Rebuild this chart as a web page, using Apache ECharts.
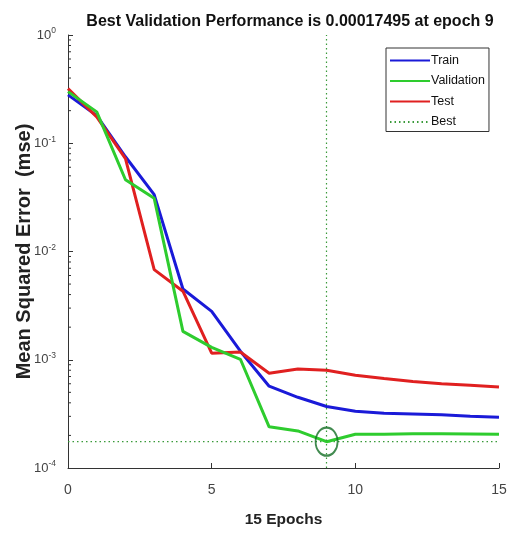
<!DOCTYPE html>
<html>
<head>
<meta charset="utf-8">
<script src="https://cdn.jsdelivr.net/npm/echarts@6/dist/echarts.min.js"></script>
<style>
html,body{margin:0;padding:0;background:#fff;}
#chart{width:519px;height:533px;}
</style>
</head>
<body>
<div id="chart"></div>
<script>
const epochs = [0,1,2,3,4,5,6,7,8,9,10,11,12,13,14,15];
const trainMSE = [0.28,0.18,0.075,0.0335,0.0045,0.0028,0.0012,0.00057,0.00045,0.00037,0.000335,0.00032,0.000315,0.00031,0.0003,0.000295];
const validationMSE = [0.30,0.195,0.046,0.031,0.00183,0.0013,0.00101,0.00024,0.00022,0.00017495,0.000205,0.000205,0.000207,0.000207,0.000206,0.000205];
const testMSE = [0.32,0.175,0.072,0.0068,0.0043,0.00115,0.00118,0.00075,0.00082,0.0008,0.00072,0.00067,0.00063,0.0006,0.00058,0.00056];
const bestEpoch = 9;
const bestValue = 0.00017495;
const xTicks = [0,5,10,15];
const yTicks = [1e-4,1e-3,1e-2,1e-1,1];

const FONT = "'Liberation Sans',Arial,sans-serif";

const minorTickVals = [];
for (let d = -4; d < 0; d++) {
  for (let k = 2; k <= 9; k++) minorTickVals.push([0, k * Math.pow(10, d)]);
}

const pair = arr => epochs.map((e, i) => [e, arr[i]]);

const chart = echarts.init(document.getElementById('chart'));
chart.setOption({
  animation: false,
  backgroundColor: '#fff',
  title: {
    text: 'Best Validation Performance is ' + bestValue + ' at epoch ' + bestEpoch,
    left: 285, top: 9, textAlign: 'center',
    textStyle: {fontFamily: FONT, fontWeight: 'bold', fontSize: 16, color: '#111'}
  },
  grid: {left: 68, right: 20, top: 35, bottom: 64, containLabel: false},
  legend: {
    orient: 'vertical', left: 386, top: 48,
    backgroundColor: '#fff', borderColor: '#333', borderWidth: 1,
    padding: [6, 4, 3, 3], itemGap: 7.5, itemWidth: 40, itemHeight: 14,
    itemStyle: {opacity: 0},
    textStyle: {fontFamily: FONT, fontSize: 12.5, color: '#111', padding: [0, 0, 0, -4]},
    data: ['Train', 'Validation', 'Test', 'Best']
  },
  xAxis: {
    type: 'value', min: 0, max: 15, interval: 5,
    name: epochs.length - 1 + ' Epochs', nameLocation: 'middle', nameGap: 44,
    nameMoveOverlap: false,
    nameTextStyle: {fontFamily: FONT, fontWeight: 'bold', fontSize: 15.5, color: '#222'},
    axisLine: {lineStyle: {color: '#333', width: 1}},
    axisTick: {inside: true, length: 5, lineStyle: {color: '#333'}},
    axisLabel: {margin: 15, fontFamily: FONT, fontSize: 14, color: '#444',
      formatter: v => xTicks.includes(v) ? String(v) : ''},
    splitLine: {show: false}
  },
  yAxis: {
    type: 'log', logBase: 10, min: 1e-4, max: 1,
    name: 'Mean Squared Error  (mse)', nameLocation: 'middle', nameGap: 34,
    nameMoveOverlap: false,
    nameTextStyle: {fontFamily: FONT, fontWeight: 'bold', fontSize: 20, color: '#222'},
    axisLine: {show: true, lineStyle: {color: '#333', width: 1}},
    axisTick: {inside: true, length: 5, lineStyle: {color: '#333'}},
    axisLabel: {
      margin: 12,
      formatter: v => {
        const e = Math.round(Math.log10(v));
        return '{b|10}{s|' + e + '}';
      },
      rich: {
        b: {fontFamily: FONT, fontSize: 13, color: '#444'},
        s: {fontFamily: FONT, fontSize: 8.5, color: '#444', verticalAlign: 'bottom', padding: [0, 0, 8, 0]}
      }
    },
    splitLine: {show: false}
  },
  series: [
    {
      name: 'minorTicks', type: 'custom', silent: true, z: 1,
      data: minorTickVals,
      renderItem: (params, api) => {
        const p = api.coord([0, api.value(1)]);
        return {type: 'line', shape: {x1: p[0], y1: p[1], x2: p[0] + 3, y2: p[1]},
          style: {stroke: '#333', lineWidth: 1}};
      }
    },
    {
      name: 'Best', type: 'line', symbol: 'none', z: 2,
      data: [[epochs[0], bestValue], [epochs[epochs.length - 1], bestValue]],
      lineStyle: {color: '#3a9a3a', width: 1.2, type: [1.5, 3]},
      itemStyle: {color: '#3a9a3a'},
      markLine: {
        silent: true, symbol: 'none', label: {show: false},
        lineStyle: {color: '#3a9a3a', width: 1.2, type: [1.5, 3]},
        data: [{xAxis: bestEpoch}]
      }
    },
    {
      name: 'Train', type: 'line', symbol: 'none', z: 3,
      data: pair(trainMSE),
      lineStyle: {color: '#1a1ad8', width: 3}, itemStyle: {color: '#1a1ad8'}
    },
    {
      name: 'Validation', type: 'line', symbol: 'none', z: 4,
      data: pair(validationMSE),
      lineStyle: {color: '#2ecc2e', width: 3}, itemStyle: {color: '#2ecc2e'}
    },
    {
      name: 'Test', type: 'line', symbol: 'none', z: 3,
      data: pair(testMSE),
      lineStyle: {color: '#e02020', width: 3}, itemStyle: {color: '#e02020'}
    },
    {
      name: 'bestPoint', type: 'scatter', z: 5, silent: true,
      symbol: 'circle', symbolSize: [22, 28],
      data: [[bestEpoch, bestValue]],
      itemStyle: {color: 'rgba(0,0,0,0)', borderColor: '#136e24', borderWidth: 2}
    }
  ]
});
</script>
</body>
</html>
